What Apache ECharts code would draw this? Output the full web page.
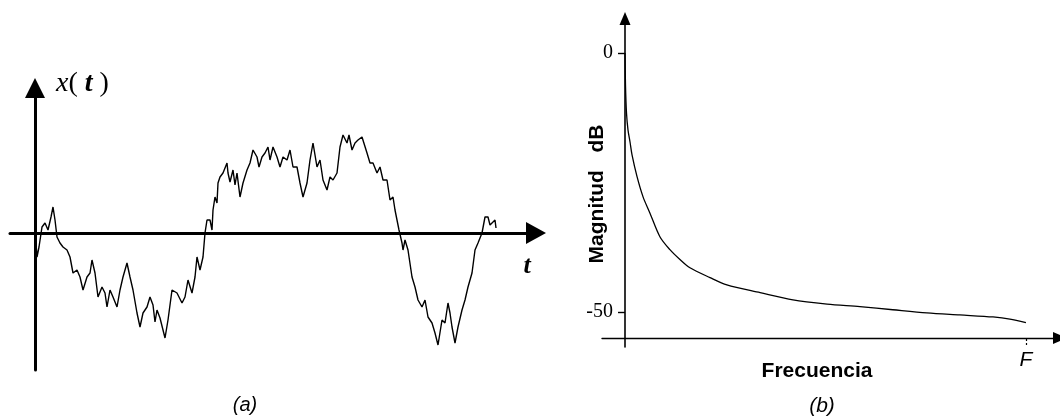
<!DOCTYPE html>
<html>
<head>
<meta charset="utf-8">
<script src="https://cdn.jsdelivr.net/npm/echarts@6/dist/echarts.min.js"></script>
<style>
html,body{margin:0;padding:0;background:#fff;}
#chart{width:1060px;height:420px;}
</style>
</head>
<body>
<div id="chart"></div>
<script>
// (a) time signal x(t): time samples and amplitudes (arbitrary units)
const timeT = [0.5,1,2,4,7,10,13,16,18,20,22,25,28,32,35,38,42,45,48,52,55,57,60,63,67,70,72,75,78,82,85,88,92,95,98,102,105,108,112,115,118,120,122,125,128,130,133,137,142,147,150,153,157,160,162,165,168,170,172,175,177,178,180,182,183,185,188,192,193,195,198,200,202,205,208,212,215,218,222,224,227,230,233,235,238,242,245,248,252,255,258,262,265,268,272,275,278,282,285,288,292,295,298,302,305,308,312,314,317,320,323,327,329,332,335,338,342,345,348,352,355,358,360,362,364,367,368,370,373,377,380,383,387,390,393,397,400,403,407,410,413,415,417,420,423,427,430,433,437,440,443,447,450,453,455,457,460,461];
const signalX = [-5,-10,-24,-14,6,10,3,16,26,13,-4,-10,-14,-17,-24,-40,-37,-44,-57,-44,-40,-27,-40,-64,-54,-60,-74,-57,-64,-74,-57,-44,-30,-44,-57,-80,-94,-80,-74,-64,-72,-89,-77,-85,-97,-105,-87,-57,-60,-70,-64,-47,-60,-44,-24,-37,-24,0,13,13,3,23,36,30,50,56,60,70,60,51,63,48,60,36,50,63,70,83,76,66,76,80,86,73,86,76,66,76,73,83,66,66,50,36,50,73,90,66,73,53,43,56,53,60,86,98,90,98,83,90,93,96,98,80,70,70,60,66,53,53,33,36,23,13,3,-10,-17,-7,-17,-44,-54,-67,-74,-67,-84,-90,-100,-112,-87,-90,-70,-80,-94,-110,-94,-77,-67,-54,-40,-17,-10,0,16,16,8,10,13,5];

// (b) magnitude spectrum: normalized frequency (F = 1) and magnitude in dB
const freq = [0,0.0012,0.0037,0.0075,0.0125,0.0175,0.030,0.045,0.062,0.087,0.112,0.137,0.162,0.212,0.254,0.337,0.419,0.504,0.586,0.668,0.753,0.835,0.918,0.960,1.0];
const magDb = [0,-6.2,-11.6,-14.9,-17.2,-19.7,-23.9,-27.8,-30.9,-35.5,-38.0,-39.9,-41.5,-43.4,-44.8,-46.3,-47.7,-48.5,-49.0,-49.6,-50.2,-50.6,-51.0,-51.4,-52.1];
const magTicks = [0, -50];
const freqTicks = [1];
const freqTickLabel = 'F';

const sigData = timeT.map((t, i) => [t, signalX[i]]);
const magData = freq.map((f, i) => [f, magDb[i]]);

const chart = echarts.init(document.getElementById('chart'), null, {renderer: 'canvas'});
const serif = '"Liberation Serif","Times New Roman",serif';
const sans = '"Liberation Sans",Arial,sans-serif';

chart.setOption({
  animation: false,
  backgroundColor: '#ffffff',
  grid: [
    {left: 10, top: 88, width: 526, bottom: 50},
    {left: 602, top: 18.5, right: 0, bottom: 73}
  ],
  xAxis: [
    {
      gridIndex: 0, type: 'value', min: -25, max: 501,
      axisLine: {onZero: true, symbol: ['none', 'triangle'], symbolSize: [22, 20], lineStyle: {color: '#000', width: 3}},
      axisTick: {show: false}, axisLabel: {show: false}, splitLine: {show: false}
    },
    {
      gridIndex: 1, type: 'value', min: -0.0574, max: 1.085, position: 'bottom', offset: -9,
      axisLine: {onZero: false, symbol: ['none', 'triangle'], symbolSize: [12, 14], lineStyle: {color: '#000', width: 1.4}},
      axisTick: {show: true, customValues: freqTicks, length: 7, lineStyle: {color: '#000', width: 1.2, type: [3, 2]}},
      axisLabel: {show: true, customValues: freqTicks, formatter: () => freqTickLabel, margin: 12,
        fontFamily: sans, fontStyle: 'italic', fontSize: 21, color: '#000'},
      splitLine: {show: false}
    }
  ],
  yAxis: [
    {
      gridIndex: 0, type: 'value', min: -137, max: 145,
      axisLine: {onZero: true, symbol: ['none', 'triangle'], symbolSize: [20, 20], lineStyle: {color: '#000', width: 3}},
      axisTick: {show: false}, axisLabel: {show: false}, splitLine: {show: false}
    },
    {
      gridIndex: 1, type: 'value', min: -56.8, max: 6.66,
      axisLine: {onZero: true, symbol: ['none', 'triangle'], symbolSize: [11, 13], lineStyle: {color: '#000', width: 1.6}},
      axisTick: {show: true, customValues: magTicks, length: 7, lineStyle: {color: '#000', width: 1.4}},
      axisLabel: {show: true, customValues: magTicks, formatter: v => String(v), margin: -11,
        fontFamily: serif, fontSize: 20, color: '#000'},
      splitLine: {show: false}
    }
  ],
  series: [
    {
      type: 'line', xAxisIndex: 0, yAxisIndex: 0, data: sigData, showSymbol: false,
      lineStyle: {color: '#000', width: 1.4}
    },
    {
      type: 'line', xAxisIndex: 1, yAxisIndex: 1, data: magData, showSymbol: false, smooth: 0.3,
      lineStyle: {color: '#000', width: 1.3}
    }
  ],
  graphic: [
    {type: 'text', left: 56, top: 70, style: {
      text: '{i|x}{p|( }{b|t}{p| )}',
      rich: {
        i: {fontFamily: serif, fontStyle: 'italic', fontSize: 28, fill: '#000'},
        p: {fontFamily: serif, fontSize: 28, fill: '#000'},
        b: {fontFamily: serif, fontStyle: 'italic', fontWeight: 'bold', fontSize: 28, fill: '#000'}
      }
    }},
    {type: 'text', x: 527, y: 266, style: {text: 't', fontFamily: serif, fontStyle: 'italic', fontWeight: 'bold',
      fontSize: 26, fill: '#000', align: 'center', verticalAlign: 'middle'}},
    {type: 'text', x: 245, y: 405, style: {text: '(a)', fontFamily: sans, fontStyle: 'italic',
      fontSize: 20, fill: '#000', align: 'center', verticalAlign: 'middle'}},
    {type: 'text', x: 597, y: 194, rotation: Math.PI / 2, style: {text: 'Magnitud   dB', fontFamily: sans, fontWeight: 'bold',
      fontSize: 21, fill: '#000', align: 'center', verticalAlign: 'middle'}},
    {type: 'text', x: 817, y: 371, style: {text: 'Frecuencia', fontFamily: sans, fontWeight: 'bold',
      fontSize: 21, fill: '#000', align: 'center', verticalAlign: 'middle'}},
    {type: 'text', x: 822, y: 406, style: {text: '(b)', fontFamily: sans, fontStyle: 'italic',
      fontSize: 21, fill: '#000', align: 'center', verticalAlign: 'middle'}}
  ]
});
</script>
</body>
</html>
